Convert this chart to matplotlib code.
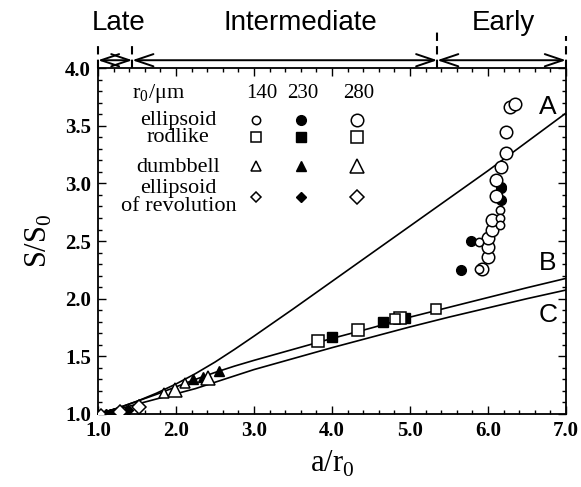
import numpy as np
import matplotlib
matplotlib.use("Agg")
import matplotlib.pyplot as plt
from matplotlib.ticker import MultipleLocator, FormatStrFormatter
from matplotlib.transforms import blended_transform_factory

plt.rcParams["font.family"] = "Liberation Serif"

# model curves A, B, C
curve_x = [1.0, 1.25, 1.5, 1.75, 2.0, 2.25, 2.5, 2.75, 3.0, 3.5, 4.0, 4.5, 5.0, 5.5, 6.0, 6.5, 7.0]
curve_a = [1.0, 1.05, 1.11, 1.18, 1.26, 1.35, 1.45, 1.56, 1.675, 1.91, 2.15, 2.39, 2.63, 2.87, 3.11, 3.36, 3.61]
curve_b = [1.0, 1.05, 1.11, 1.17, 1.235, 1.30, 1.36, 1.415, 1.465, 1.56, 1.655, 1.745, 1.84, 1.925, 2.01, 2.095, 2.176]
curve_c = [1.0, 1.04, 1.085, 1.13, 1.175, 1.22, 1.275, 1.33, 1.385, 1.48, 1.575, 1.665, 1.755, 1.84, 1.92, 2.0, 2.075]

# ellipsoid (circles)
ell140_x = [5.89, 5.88, 6.15, 6.15, 6.15]
ell140_y = [2.49, 2.26, 2.77, 2.70, 2.64]
ell230_x = [5.66, 5.78, 6.17, 6.17, 6.17]
ell230_y = [2.25, 2.50, 2.86, 2.96, 2.97]
ell280_x = [5.93, 6.00, 6.00, 6.00, 6.05, 6.05, 6.11, 6.11, 6.17, 6.23, 6.23, 6.28, 6.35]
ell280_y = [2.26, 2.36, 2.445, 2.53, 2.60, 2.68, 2.89, 3.03, 3.14, 3.26, 3.445, 3.66, 3.69]

# rodlike (squares)
rod140_x = [4.81, 5.33]
rod140_y = [1.82, 1.91]
rod230_x = [4.00, 4.66, 4.94]
rod230_y = [1.664, 1.794, 1.835]
rod280_x = [3.825, 4.34, 4.87]
rod280_y = [1.632, 1.728, 1.835]

# dumbbell (triangles)
dum140_x = [1.84, 2.12]
dum140_y = [1.18, 1.27]
dum230_x = [2.22, 2.35, 2.55]
dum230_y = [1.30, 1.32, 1.375]
dum280_x = [1.99, 2.41]
dum280_y = [1.21, 1.31]

# ellipsoid of revolution (diamonds)
rev140_x = [1.04]
rev140_y = [1.0]
rev230_x = [1.10, 1.15, 1.20, 1.39]
rev230_y = [1.0, 1.0, 1.005, 1.035]
rev280_x = [1.28, 1.52]
rev280_y = [1.02, 1.06]

radii = ["140", "230", "280"]
shapes = ["ellipsoid", "rodlike", "dumbbell", "ellipsoid\nof revolution"]

fig = plt.figure(figsize=(5.81, 4.87), dpi=100)
ax = fig.add_axes([0.1687, 0.150, 0.8053, 0.710])

lw = 1.2
ax.plot(curve_x, curve_a, "k-", lw=lw)
ax.plot(curve_x, curve_b, "k-", lw=lw)
ax.plot(curve_x, curve_c, "k-", lw=lw)

open_kw = dict(ls="none", mfc="white", mec="black", mew=1.1)
fill_kw = dict(ls="none", mfc="black", mec="black", mew=1.0)

sizes = {"o": (6, 7, 9), "s": (6.5, 7, 9), "^": (6.5, 7, 10), "D": (5, 5.5, 7)}
groups = [
    ("o", (ell140_x, ell140_y), (ell230_x, ell230_y), (ell280_x, ell280_y)),
    ("s", (rod140_x, rod140_y), (rod230_x, rod230_y), (rod280_x, rod280_y)),
    ("^", (dum140_x, dum140_y), (dum230_x, dum230_y), (dum280_x, dum280_y)),
    ("D", (rev140_x, rev140_y), (rev230_x, rev230_y), (rev280_x, rev280_y)),
]
for m, g1, g2, g3 in groups:
    s1, s2, s3 = sizes[m]
    ax.plot(*g2, marker=m, ms=s2, zorder=3, **fill_kw)
    ax.plot(*g3, marker=m, ms=s3, zorder=4, **open_kw)
    ax.plot(*g1, marker=m, ms=s1, zorder=5, **open_kw)

# in-plot key
col_x = [3.03, 3.60, 4.32]
row_y = [3.55, 3.40, 3.15, 2.88]
row_txt_y = [3.55, 3.40, 3.14, 2.88]
key_fs = 16
ax.text(1.77, 3.78, r"r$_\mathregular{0}$/$\mathregular{\mu}$m", ha="center", va="center", fontsize=key_fs)
for cx, r in zip([3.10, 3.63, 4.34], radii):
    ax.text(cx, 3.78, r, ha="center", va="center", fontsize=15)
for (m, *_), ry, ty, label in zip(groups, row_y, row_txt_y, shapes):
    ax.text(2.03, ty, label, ha="center", va="center", fontsize=key_fs, linespacing=0.9)
    s1, s2, s3 = sizes[m]
    ax.plot(col_x[0], ry, marker=m, ms=s1, **open_kw)
    ax.plot(col_x[1], ry, marker=m, ms=s2, **fill_kw)
    ax.plot(col_x[2], ry, marker=m, ms=s3, **open_kw)

# curve labels
for lab, ly in zip(["A", "B", "C"], [3.66, 2.31, 1.86]):
    ax.text(6.77, ly, lab, ha="center", va="center", fontsize=19, family="Liberation Sans")

ax.set_xlim(1.0, 7.0)
ax.set_ylim(1.0, 4.0)
ax.xaxis.set_major_locator(MultipleLocator(1.0))
ax.xaxis.set_minor_locator(MultipleLocator(0.2))
ax.yaxis.set_major_locator(MultipleLocator(0.5))
ax.yaxis.set_minor_locator(MultipleLocator(0.1))
ax.xaxis.set_major_formatter(FormatStrFormatter("%.1f"))
ax.yaxis.set_major_formatter(FormatStrFormatter("%.1f"))
ax.tick_params(which="both", direction="in", top=True, right=True, width=1.0)
ax.tick_params(which="major", length=6, labelsize=15, pad=5)
ax.tick_params(which="minor", length=3)
for t in ax.get_xticklabels() + ax.get_yticklabels():
    t.set_fontweight("bold")
for sp in ax.spines.values():
    sp.set_linewidth(1.3)

ax.set_xlabel(r"a/r$_\mathregular{0}$", fontsize=22, labelpad=6)
ax.set_ylabel(r"S/S$_\mathregular{0}$", fontsize=22, labelpad=8)

# stage bar above the axes
stage_edges = [1.0, 1.44, 5.35, 7.0]
stage_names = ["Late", "Intermediate", "Early"]
stage_label_x = [1.26, 3.6, 6.2]
dash_top = [1.069, 1.078, 1.104, 1.092]
trans = blended_transform_factory(ax.transData, ax.transAxes)
for xe, yt in zip(stage_edges, dash_top):
    ax.plot([xe, xe], [1.0, yt], transform=trans, color="black", lw=1.5,
            ls=(0, (4, 2.5)), clip_on=False)
for x0, x1 in zip(stage_edges[:-1], stage_edges[1:]):
    ax.annotate("", xy=(x1, 1.023), xytext=(x0, 1.023), xycoords=trans, textcoords=trans,
                arrowprops=dict(arrowstyle="<->,head_length=0.65,head_width=0.22",
                                lw=1.4, color="black", shrinkA=0, shrinkB=0,
                                mutation_scale=20))
for lx, name in zip(stage_label_x, stage_names):
    ax.text(lx, 1.13, name, transform=trans, ha="center", va="center",
            fontsize=20, family="Liberation Sans")

fig.savefig("out.png", dpi=100)
